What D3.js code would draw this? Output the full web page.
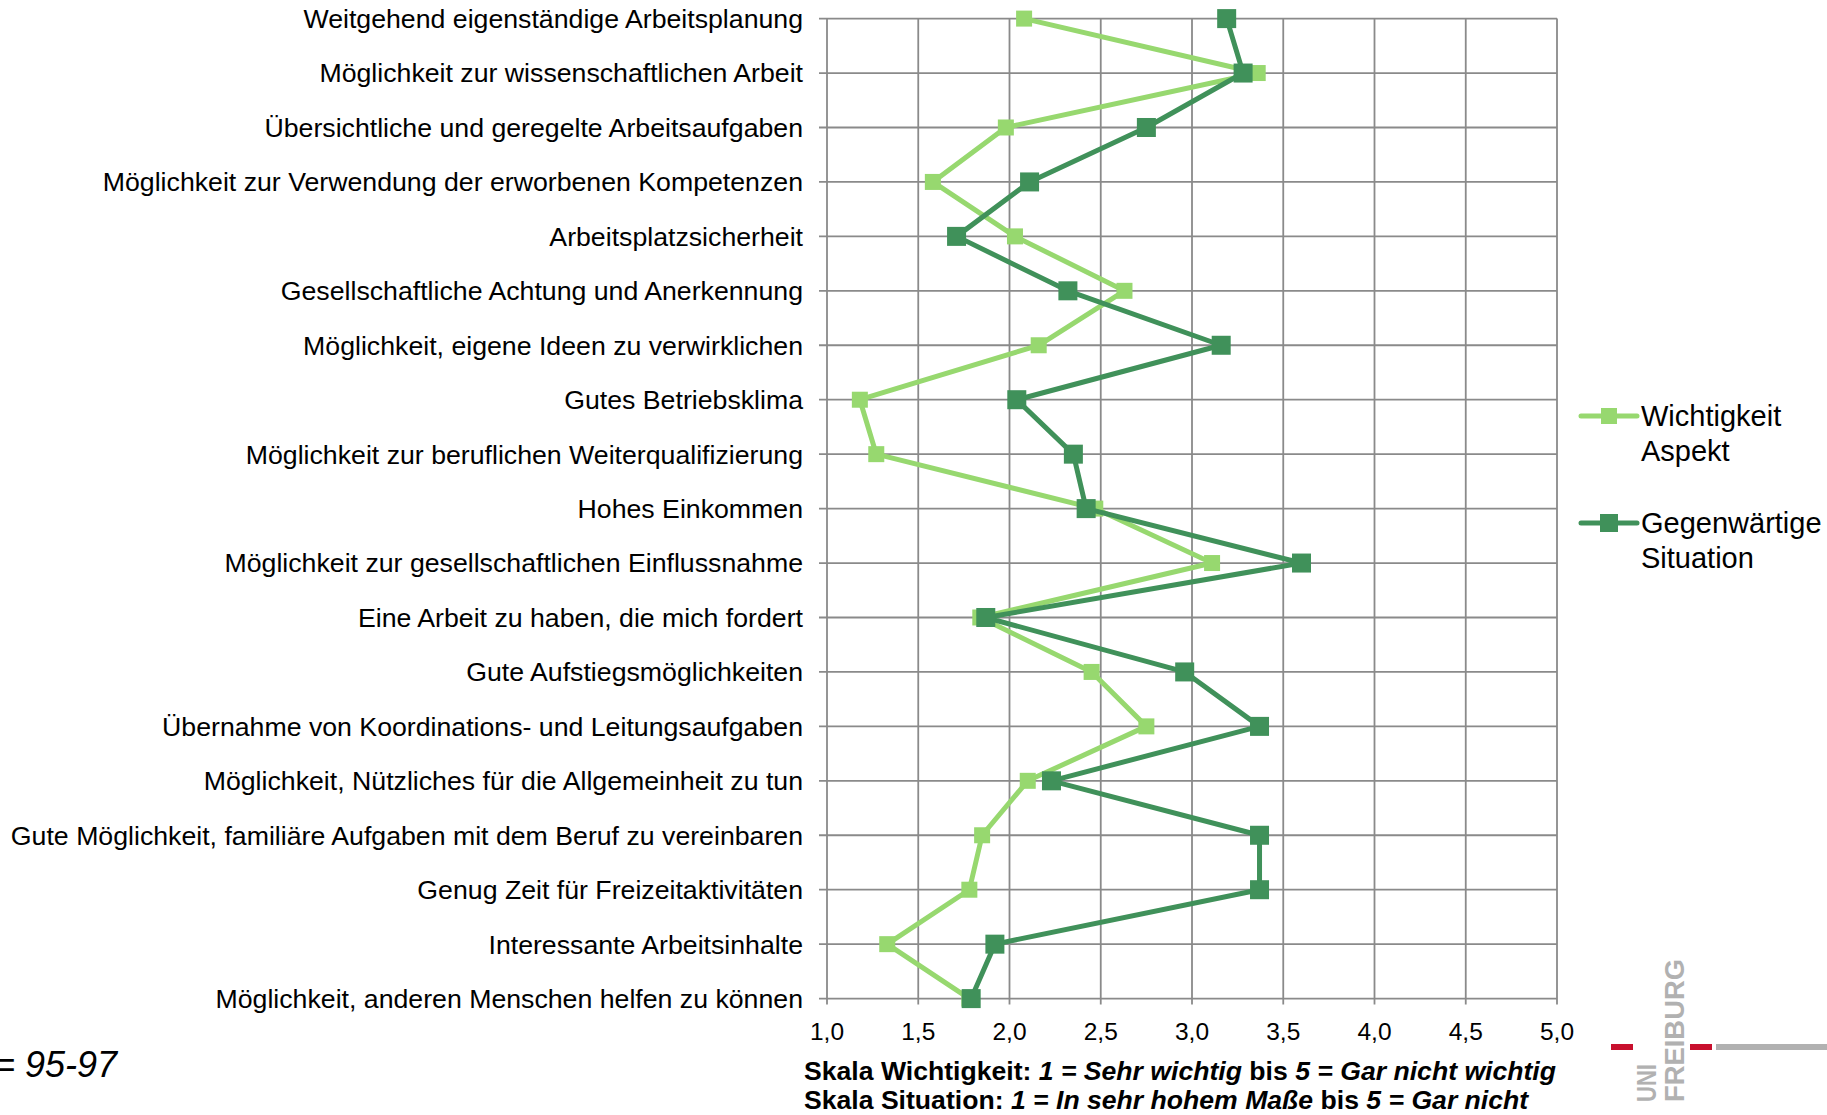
<!DOCTYPE html>
<html><head><meta charset="utf-8">
<script src="https://cdn.jsdelivr.net/npm/d3@7"></script>
<style>body{margin:0;background:#fff}svg{display:block}</style>
</head><body>
<svg id="c" width="1827" height="1115"></svg>
<script>
const categories = [
  "Weitgehend eigenständige Arbeitsplanung",
  "Möglichkeit zur wissenschaftlichen Arbeit",
  "Übersichtliche und geregelte Arbeitsaufgaben",
  "Möglichkeit zur Verwendung der erworbenen Kompetenzen",
  "Arbeitsplatzsicherheit",
  "Gesellschaftliche Achtung und Anerkennung",
  "Möglichkeit, eigene Ideen zu verwirklichen",
  "Gutes Betriebsklima",
  "Möglichkeit zur beruflichen Weiterqualifizierung",
  "Hohes Einkommen",
  "Möglichkeit zur gesellschaftlichen Einflussnahme",
  "Eine Arbeit zu haben, die mich fordert",
  "Gute Aufstiegsmöglichkeiten",
  "Übernahme von Koordinations- und Leitungsaufgaben",
  "Möglichkeit, Nützliches für die Allgemeinheit zu tun",
  "Gute Möglichkeit, familiäre Aufgaben mit dem Beruf zu vereinbaren",
  "Genug Zeit für Freizeitaktivitäten",
  "Interessante Arbeitsinhalte",
  "Möglichkeit, anderen Menschen helfen zu können"
];
const wichtigkeit = [2.08, 3.36, 1.98, 1.58, 2.03, 2.63, 2.16, 1.18, 1.27, 2.47, 3.11, 1.84, 2.45, 2.75, 2.10, 1.85, 1.78, 1.33, 1.78];
const situation   = [3.19, 3.28, 2.75, 2.11, 1.71, 2.32, 3.16, 2.04, 2.35, 2.42, 3.60, 1.87, 2.96, 3.37, 2.23, 3.37, 3.37, 1.92, 1.79];
const xTicks = [1.0, 1.5, 2.0, 2.5, 3.0, 3.5, 4.0, 4.5, 5.0];
const seriesNames = [["Wichtigkeit", "Aspekt"], ["Gegenwärtige", "Situation"]];
const seriesColors = ["#97d86f", "#40915a"];

const svg = d3.select("#c");
const font = "'Liberation Sans', Arial, sans-serif";
const x = d3.scaleLinear().domain([1, 5]).range([827, 1557]);
const y = d3.scalePoint().domain(categories).range([18.6, 998.6]);
const grid = "#8a8a8a";

// vertical gridlines
svg.append("g").selectAll("line").data(xTicks).join("line")
  .attr("x1", d => x(d)).attr("x2", d => x(d))
  .attr("y1", y.range()[0]).attr("y2", y.range()[1] + 6)
  .attr("stroke", grid).attr("stroke-width", 1.8);
// horizontal gridlines
svg.append("g").selectAll("line").data(categories).join("line")
  .attr("x1", x(1) - 8).attr("x2", x(5))
  .attr("y1", d => y(d)).attr("y2", d => y(d))
  .attr("stroke", grid).attr("stroke-width", 1.8);

// category labels
svg.append("g").selectAll("text").data(categories).join("text")
  .attr("x", 803).attr("y", d => y(d)).attr("dy", "0.35em")
  .attr("text-anchor", "end").attr("font-family", font).attr("font-size", 26.7)
  .attr("fill", "#000").text(d => d);

// x tick labels
svg.append("g").selectAll("text").data(xTicks).join("text")
  .attr("x", d => x(d)).attr("y", 1040)
  .attr("text-anchor", "middle").attr("font-family", font).attr("font-size", 24.5)
  .attr("fill", "#000").text(d => d3.format(".1f")(d).replace(".", ","));

function drawSeries(vals, color, size) {
  const pts = vals.map((v, i) => [x(v), y(categories[i])]);
  svg.append("path").attr("d", d3.line()(pts)).attr("fill", "none")
    .attr("stroke", color).attr("stroke-width", 5).attr("stroke-linejoin", "round");
  svg.append("g").selectAll("rect").data(pts).join("rect")
    .attr("x", d => d[0] - size / 2).attr("y", d => d[1] - size / 2)
    .attr("width", size).attr("height", size).attr("fill", color);
}
drawSeries(wichtigkeit, seriesColors[0], 16);
drawSeries(situation, seriesColors[1], 19);

// legend
const legY = [416, 523];
seriesNames.forEach((nm, i) => {
  const g = svg.append("g");
  g.append("line").attr("x1", 1581).attr("x2", 1637).attr("y1", legY[i]).attr("y2", legY[i])
    .attr("stroke", seriesColors[i]).attr("stroke-width", 5).attr("stroke-linecap", "round");
  const s = i === 0 ? 16 : 18;
  g.append("rect").attr("x", 1609 - s / 2).attr("y", legY[i] - s / 2).attr("width", s).attr("height", s)
    .attr("fill", seriesColors[i]);
  nm.forEach((t, j) => {
    g.append("text").attr("x", 1641).attr("y", legY[i] + 10 + j * 34.5)
      .attr("font-family", font).attr("font-size", 29).attr("fill", "#000").text(t);
  });
});

// footer scale notes
const f1 = svg.append("text").attr("x", 804).attr("y", 1080).attr("font-family", font)
  .attr("font-size", 26.6).attr("font-weight", "bold").attr("fill", "#000");
f1.append("tspan").text("Skala Wichtigkeit: ");
f1.append("tspan").attr("font-style", "italic").text("1 = Sehr wichtig");
f1.append("tspan").text(" bis ");
f1.append("tspan").attr("font-style", "italic").text("5 = Gar nicht wichtig");
const f2 = svg.append("text").attr("x", 804).attr("y", 1109).attr("font-family", font)
  .attr("font-size", 26.6).attr("font-weight", "bold").attr("fill", "#000");
f2.append("tspan").text("Skala Situation: ");
f2.append("tspan").attr("font-style", "italic").text("1 = In sehr hohem Maße");
f2.append("tspan").text(" bis ");
f2.append("tspan").attr("font-style", "italic").text("5 = Gar nicht");

// n note
svg.append("text").attr("x", 117).attr("y", 1077).attr("text-anchor", "end")
  .attr("font-family", font).attr("font-size", 36).attr("font-style", "italic")
  .attr("fill", "#000").text("n = 95-97");

// logo
const logo = svg.append("g");
logo.append("rect").attr("x", 1611).attr("y", 1044).attr("width", 22).attr("height", 6).attr("fill", "#c8102e");
logo.append("rect").attr("x", 1690).attr("y", 1044).attr("width", 22).attr("height", 6).attr("fill", "#c8102e");
logo.append("rect").attr("x", 1716).attr("y", 1044).attr("width", 111).attr("height", 6).attr("fill", "#b1b1b1");
logo.append("text").attr("transform", "translate(1656,1102) rotate(-90)")
  .attr("font-family", font).attr("font-weight", "bold").attr("font-size", 27)
  .attr("fill", "#b1b1b1").attr("textLength", 38).attr("lengthAdjust", "spacingAndGlyphs").text("UNI");
logo.append("text").attr("transform", "translate(1684,1102) rotate(-90)")
  .attr("font-family", font).attr("font-weight", "bold").attr("font-size", 28)
  .attr("fill", "#b1b1b1").attr("textLength", 143).attr("lengthAdjust", "spacingAndGlyphs").text("FREIBURG");
</script>
</body></html>
